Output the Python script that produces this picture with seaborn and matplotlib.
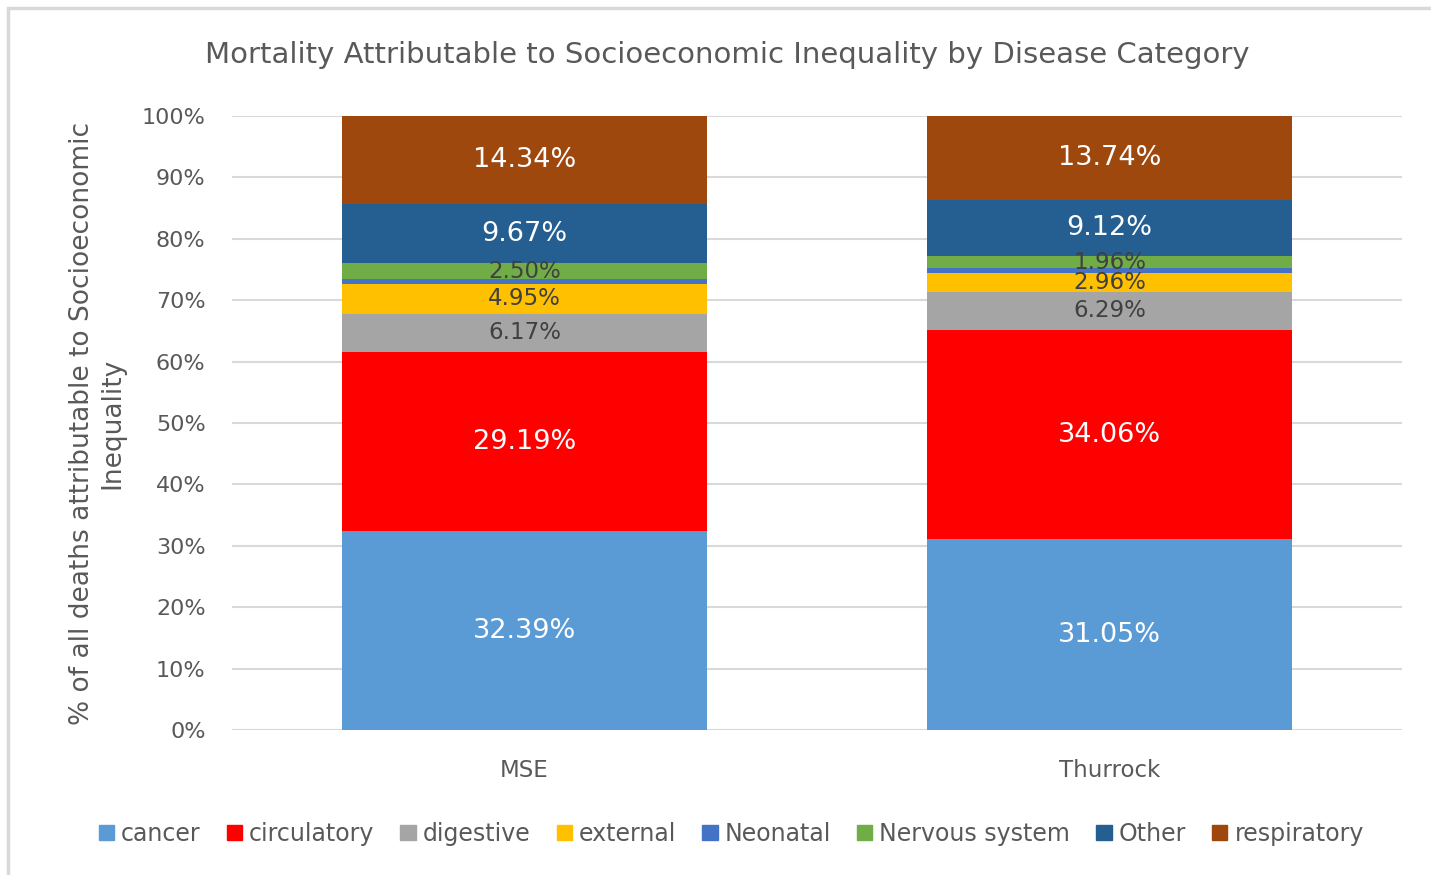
import matplotlib.pyplot as plt
import matplotlib.patches as mpatches
import seaborn as sns
import numpy as np
import pandas as pd

# dati
areas = ["MSE", "Thurrock"]
categories = ["cancer", "circulatory", "digestive", "external", "Neonatal",
              "Nervous system", "Other", "respiratory"]
mse_vals = [32.39, 29.19, 6.17, 4.95, 0.79, 2.50, 9.67, 14.34]
thurrock_vals = [31.05, 34.06, 6.29, 2.96, 0.82, 1.96, 9.12, 13.74]
colors = ["#5B9BD5", "#FF0000", "#A5A5A5", "#FFC000", "#4472C4",
          "#70AD47", "#255E91", "#9E480E"]
label_colors = ["white", "white", "#404040", "#404040", None,
                "#404040", "white", "white"]

df = pd.DataFrame({"area": np.repeat(areas, len(categories)),
                   "category": categories * len(areas),
                   "value": mse_vals + thurrock_vals})
df["share"] = df["value"] / df.groupby("area")["value"].transform("sum") * 100

sns.set_style("white")
plt.rcParams["font.family"] = ["DejaVu Sans"]
grey = "#595959"

fig = plt.figure(figsize=(14.31, 8.75), dpi=100)
ax = fig.add_axes([0.1621, 0.1657, 0.8176, 0.7017])

bottom = np.zeros(len(areas))
for cat, col, lcol in zip(categories, colors, label_colors):
    sub = df[df["category"] == cat].set_index("area").loc[areas].reset_index()
    sns.barplot(data=sub, x="area", y="share", color=col, width=0.624,
                bottom=bottom, ax=ax, saturation=1, zorder=3, linewidth=0)
    if lcol is not None:
        for i, (s, v) in enumerate(zip(sub["share"], sub["value"])):
            big = lcol == "white"
            ax.text(i, bottom[i] + s / 2, f"{v:.2f}%", ha="center", va="center",
                    color=lcol, fontsize=19.5 if big else 16.5, zorder=5)
    bottom += sub["share"].values

ax.set_ylim(0, 100)
ax.set_xlim(-0.5, 1.5)
ax.set_yticks(range(0, 101, 10))
ax.set_yticklabels([f"{t}%" for t in range(0, 101, 10)])
ax.tick_params(axis="both", length=0, colors=grey, labelsize=16)
ax.tick_params(axis="y", pad=19)
ax.tick_params(axis="x", pad=21, labelsize=16.5)
ax.grid(axis="y", color="#D9D9D9", linewidth=1.5, zorder=0)
for sp in ax.spines.values():
    sp.set_visible(False)
ax.set_xlabel("")
ax.set_ylabel("% of all deaths attributable to Socioeconomic\nInequality",
              fontsize=19, color=grey, labelpad=12)

fig.suptitle("Mortality Attributable to Socioeconomic Inequality by Disease Category",
             x=0.508, y=0.953, fontsize=21, color=grey)

handles = [mpatches.Patch(color=c, label=l) for c, l in zip(colors, categories)]
fig.legend(handles=handles, loc="center", bbox_to_anchor=(0.511, 0.047), ncol=8,
           frameon=False, fontsize=17, handlelength=0.65, handleheight=0.65,
           handletextpad=0.3, columnspacing=1.1, labelcolor=grey)

# bordo grigio del riquadro
fig.add_artist(mpatches.Rectangle((8 / 1431, -0.1), 1.2, 1.1 - 8 / 875,
                                  transform=fig.transFigure, fill=False,
                                  edgecolor="#D9D9D9", linewidth=2.5))

fig.savefig("out.png", dpi=100)
